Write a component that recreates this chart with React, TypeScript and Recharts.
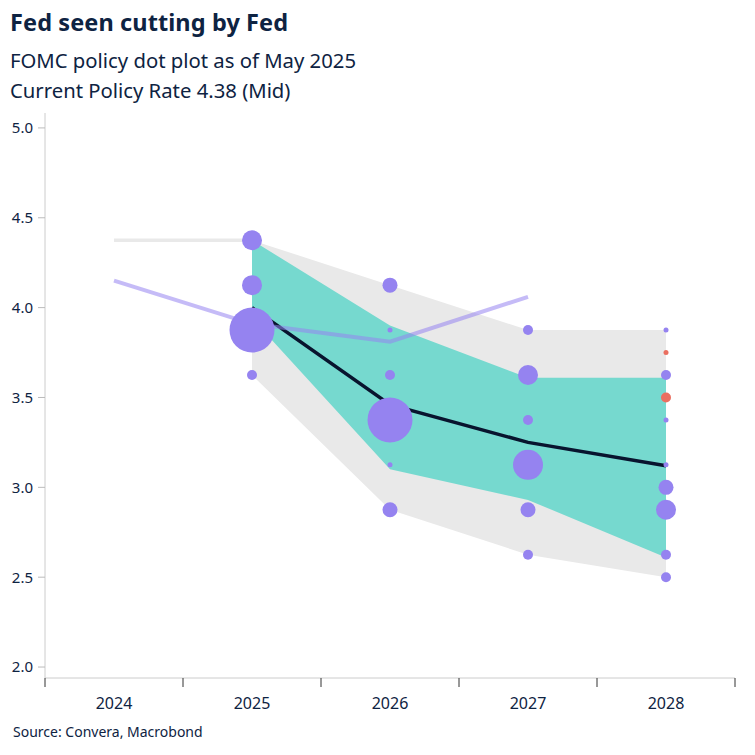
import React from "react";
import {
  ComposedChart,
  Area,
  Line,
  Scatter,
  XAxis,
  YAxis,
} from "recharts";

// ---- data ----
const years = [2024, 2025, 2026, 2027, 2028];
const yTicks = [2.0, 2.5, 3.0, 3.5, 4.0, 4.5, 5.0];
const actualRate = [4.375, 4.375, null, null, null];
const marketPath = [4.15, 3.91, 3.81, 4.06, null];
const rangeLow = [null, 3.625, 2.875, 2.625, 2.5];
const rangeHigh = [null, 4.375, 4.125, 3.875, 3.875];
const centralLow = [null, 3.94, 3.1, 2.93, 2.61];
const centralHigh = [null, 4.375, 3.9, 3.61, 3.61];
const medianPath = [null, 4.0, 3.46, 3.25, 3.12];

// [year, rate, number of participants]
const fomcDots: [number, number, number][] = [
  [2025, 4.375, 4],
  [2025, 4.125, 4],
  [2025, 3.875, 9],
  [2025, 3.625, 2],
  [2026, 4.125, 3],
  [2026, 3.875, 1],
  [2026, 3.625, 2],
  [2026, 3.375, 9],
  [2026, 3.125, 1],
  [2026, 2.875, 3],
  [2027, 3.875, 2],
  [2027, 3.625, 4],
  [2027, 3.375, 2],
  [2027, 3.125, 6],
  [2027, 2.875, 3],
  [2027, 2.625, 2],
  [2028, 3.875, 1],
  [2028, 3.625, 2],
  [2028, 3.375, 1],
  [2028, 3.125, 1],
  [2028, 3.0, 3],
  [2028, 2.875, 4],
  [2028, 2.625, 2],
  [2028, 2.5, 2],
];
const redDots: [number, number, number][] = [
  [2028, 3.75, 1],
  [2028, 3.5, 2],
];

const rows = years.map((year, i) => ({
  year,
  actual: actualRate[i],
  market: marketPath[i],
  range: rangeLow[i] == null ? null : [rangeLow[i], rangeHigh[i]],
  central: centralLow[i] == null ? null : [centralLow[i], centralHigh[i]],
  median: medianPath[i],
}));
const toPoints = (list: [number, number, number][]) =>
  list.map(([year, rate, count]) => ({ year, rate, count }));

// ---- styles ----
const NAVY = "#0e2342";
const FONT = "'Noto Sans', 'Open Sans', sans-serif";
const W = 755;
const H = 755;
const M = { top: 113, right: 20, bottom: 47, left: 0 };
const Y_W = 45;
const PLOT_W = W - M.left - M.right - Y_W;
const HALF_BAND = PLOT_W / years.length / 2;
const R_PER = 2.5;

const dotShape = (fill: string) => (props: any) => {
  const { cx, cy, payload } = props;
  if (cx == null || cy == null) return <g />;
  return <circle cx={cx} cy={cy} r={payload.count * R_PER} fill={fill} />;
};

const XTick = (props: any) => {
  const { x, y, payload, index } = props;
  return (
    <g>
      <line x1={x - HALF_BAND} x2={x - HALF_BAND} y1={y} y2={y + 9} stroke="#333" strokeWidth={1} />
      {index === years.length - 1 && (
        <line x1={x + HALF_BAND} x2={x + HALF_BAND} y1={y} y2={y + 9} stroke="#333" strokeWidth={1} />
      )}
      <text x={x} y={y + 31} textAnchor="middle" fill={NAVY} fontSize={16} fontFamily={FONT}>
        {payload.value}
      </text>
    </g>
  );
};

export default function App() {
  return (
    <div
      style={{
        position: "absolute",
        left: 0,
        top: 0,
        width: W,
        height: H,
        background: "#fff",
        fontFamily: FONT,
        color: NAVY,
      }}
    >
      <div style={{ position: "absolute", left: 10, top: 5, fontSize: 23.5, fontWeight: 700, lineHeight: "34px", whiteSpace: "nowrap", letterSpacing: 0.1 }}>
        Fed seen cutting by Fed
      </div>
      <div style={{ position: "absolute", left: 10, top: 45, fontSize: 20.3, lineHeight: "30px", whiteSpace: "nowrap" }}>
        FOMC policy dot plot as of May 2025
      </div>
      <div style={{ position: "absolute", left: 10, top: 75, fontSize: 20.3, lineHeight: "30px", whiteSpace: "nowrap" }}>
        Current Policy Rate 4.38 (Mid)
      </div>
      <div style={{ position: "absolute", left: 13, top: 722, fontSize: 14, lineHeight: "20px", whiteSpace: "nowrap" }}>
        Source: Convera, Macrobond
      </div>
      <div style={{ position: "absolute", left: 0, top: 0 }}>
        <ComposedChart width={W} height={H} data={rows} margin={M}>
          <XAxis
            dataKey="year"
            type="number"
            domain={[2023.5, 2028.5]}
            ticks={years}
            interval={0}
            tickLine={false}
            tickSize={0}
            tickMargin={0}
            axisLine={{ stroke: "#cccccc" }}
            tick={<XTick />}
            height={30}
            allowDataOverflow
          />
          <YAxis
            type="number"
            domain={[1.939, 5.083]}
            ticks={yTicks}
            interval={0}
            width={Y_W}
            tickSize={7}
            tickMargin={5}
            axisLine={{ stroke: "#cccccc" }}
            tickLine={{ stroke: "#bbbbbb" }}
            tick={{ fill: NAVY, fontSize: 15, fontFamily: FONT }}
            tickFormatter={(v: number) => v.toFixed(1)}
            allowDataOverflow
          />
          <Area
            dataKey="range"
            type="linear"
            fill="#e9e9e9"
            fillOpacity={1}
            stroke="none"
            isAnimationActive={false}
            connectNulls={false}
          />
          <Area
            dataKey="central"
            type="linear"
            fill="#76d9cf"
            fillOpacity={1}
            stroke="none"
            isAnimationActive={false}
            connectNulls={false}
          />
          <Line
            dataKey="actual"
            type="linear"
            stroke="#e9e9e9"
            strokeWidth={3.5}
            dot={false}
            isAnimationActive={false}
          />
          <Line
            dataKey="median"
            type="linear"
            stroke="#08142e"
            strokeWidth={3.5}
            dot={false}
            isAnimationActive={false}
          />
          <Line
            dataKey="market"
            type="linear"
            stroke="#9583f0"
            strokeOpacity={0.55}
            strokeWidth={4}
            dot={false}
            isAnimationActive={false}
          />
          <Scatter
            data={toPoints(fomcDots)}
            dataKey="rate"
            shape={dotShape("#9583f0")}
            isAnimationActive={false}
          />
          <Scatter
            data={toPoints(redDots)}
            dataKey="rate"
            shape={dotShape("#ea6f60")}
            isAnimationActive={false}
          />
        </ComposedChart>
      </div>
    </div>
  );
}
